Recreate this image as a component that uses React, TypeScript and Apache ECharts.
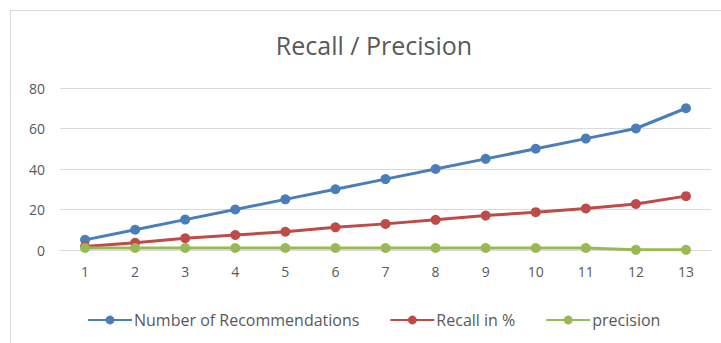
import React, { useEffect, useRef } from "react";
import * as echarts from "echarts";

const categories = ["1", "2", "3", "4", "5", "6", "7", "8", "9", "10", "11", "12", "13"];
const recommendations = [5, 10, 15, 20, 25, 30, 35, 40, 45, 50, 55, 60, 70];
const recall = [1.7, 3.6, 5.8, 7.4, 9.0, 11.2, 12.9, 14.9, 17.0, 18.7, 20.5, 22.7, 26.6];
const precision = [1, 1, 1, 1, 1, 1, 1, 1, 1, 1, 1, 0.1, 0.1];

const seriesNames = ["Number of Recommendations", "Recall in %", "precision"];
const colors = ["#4a7ebb", "#be4b48", "#98b954"];

export default function App() {
  const ref = useRef<HTMLDivElement>(null);
  useEffect(() => {
    if (!ref.current) return;
    const chart = echarts.init(ref.current, null, { renderer: "svg" });
    const values = [recommendations, recall, precision];
    chart.setOption({
      animation: false,
      backgroundColor: "#ffffff",
      textStyle: { fontFamily: "Open Sans" },
      title: {
        text: "Recall / Precision",
        left: 369,
        textAlign: "center",
        top: 27,
        textStyle: { fontSize: 25, fontWeight: "normal", color: "#595959", fontFamily: "Open Sans" },
      },
      graphic: [
        {
          type: "rect",
          shape: { x: 10.5, y: 10.5, width: 720, height: 340 },
          style: { fill: "none", stroke: "#d9d9d9", lineWidth: 1 },
          silent: true,
        },
      ],
      legend: {
        top: 307,
        left: 82,
        itemWidth: 44,
        itemHeight: 11,
        itemGap: 30,
        textStyle: { fontSize: 16, color: "#595959", padding: [0, 0, 0, -3] },
        data: seriesNames,
      },
      grid: { left: 60, right: 10, top: 88, bottom: 93 },
      xAxis: {
        type: "category",
        data: categories,
        boundaryGap: true,
        axisLine: { lineStyle: { color: "#d9d9d9" } },
        axisTick: { show: false },
        axisLabel: { color: "#595959", fontSize: 14, margin: 14 },
      },
      yAxis: {
        type: "value",
        min: 0,
        max: 80,
        interval: 20,
        axisLine: { show: false },
        axisTick: { show: false },
        axisLabel: { color: "#595959", fontSize: 14, margin: 15 },
        splitLine: { lineStyle: { color: "#d9d9d9" } },
      },
      series: seriesNames.map((name, i) => ({
        name,
        type: "line",
        data: values[i],
        symbol: "circle",
        symbolSize: 10,
        lineStyle: { width: 3, color: colors[i] },
        itemStyle: { color: colors[i] },
      })),
    });
    return () => chart.dispose();
  }, []);
  return (
    <div
      ref={ref}
      style={{ position: "fixed", left: 0, top: 0, width: 721, height: 343 }}
    />
  );
}
